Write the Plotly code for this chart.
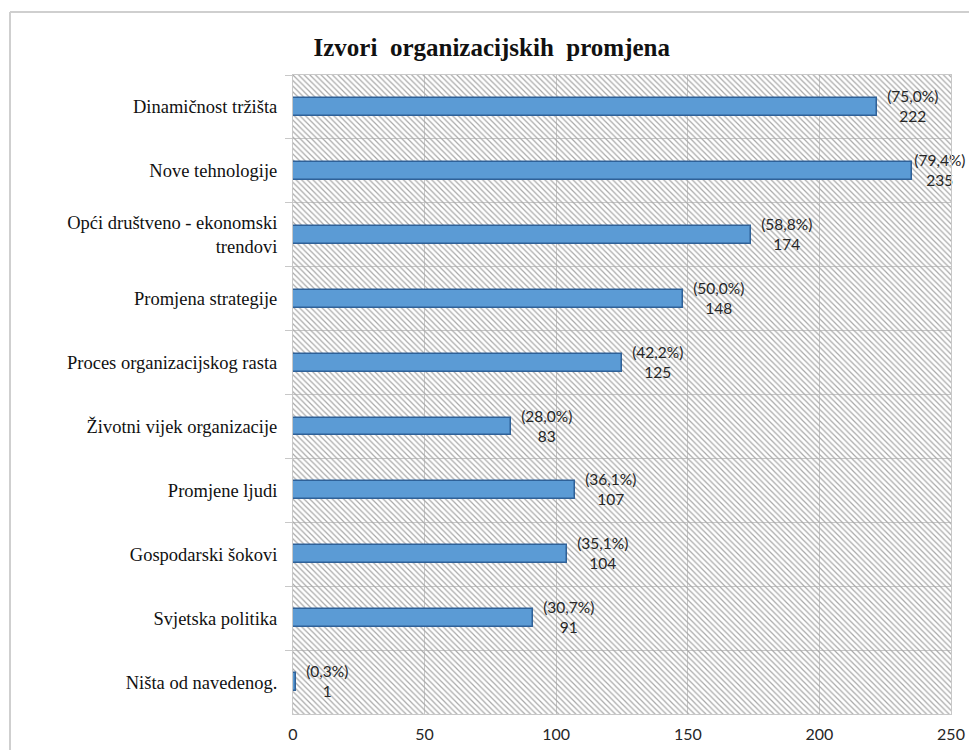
import plotly.graph_objects as go

categories = [
    "Dinamičnost tržišta",
    "Nove tehnologije",
    "Opći društveno - ekonomski<br>trendovi",
    "Promjena strategije",
    "Proces organizacijskog rasta",
    "Životni vijek organizacije",
    "Promjene ljudi",
    "Gospodarski šokovi",
    "Svjetska politika",
    "Ništa od navedenog.",
]
counts = [222, 235, 174, 148, 125, 83, 107, 104, 91, 1]
percents = ["75,0%", "79,4%", "58,8%", "50,0%", "42,2%", "28,0%", "36,1%", "35,1%", "30,7%", "0,3%"]
x_max = 250
x_ticks = [0, 50, 100, 150, 200, 250]

W, H = 970, 751
ML, MR, MT, MB = 293, 19, 75, 37
PW, PH = W - ML - MR, H - MT - MB


def pad_for(v):
    # labels near the right edge get less space (as in the original)
    return "" if v > 0.9 * x_max else "\u00a0\u00a0"


labels = [f"{pad_for(c)}({p})<br>{pad_for(c)}{c}" for p, c in zip(percents, counts)]

fig = go.Figure()

# hatched plot-area background
fig.add_trace(go.Bar(
    y=categories, x=[x_max] * len(categories), orientation="h", width=1,
    marker=dict(color="rgba(0,0,0,0)", line=dict(width=0),
                pattern=dict(shape="\\", fgcolor="#a8a8a8", bgcolor="rgba(0,0,0,0)",
                             size=4, solidity=0.3, fillmode="replace")),
    hoverinfo="skip", showlegend=False,
))

fig.add_trace(go.Bar(
    y=categories, x=counts, orientation="h", width=0.28,
    marker=dict(color="#5B9BD5", line=dict(color="#2F6198", width=1.5)),
    text=labels, textposition="outside", cliponaxis=False, constraintext="none",
    textfont=dict(family="Lato", size=15.5, color="#262626"),
    showlegend=False,
))

# outer chart frame (top and left edges visible in the original)
fx0 = (10 - ML) / PW
fx1 = (W - 1 - ML) / PW
fy1 = (H - MB - 12) / PH
fy0 = -(MB - 1) / PH

fig.update_layout(
    width=W, height=H,
    barmode="overlay",
    paper_bgcolor="white", plot_bgcolor="white",
    margin=dict(l=ML, r=MR, t=MT, b=MB, autoexpand=False),
    title=dict(text="<b>Izvori  organizacijskih  promjena</b>", x=0.507, xanchor="center",
               y=0.937, yanchor="middle",
               font=dict(family="Liberation Serif, Times New Roman, serif", size=25, color="#111111")),
    xaxis=dict(range=[0, x_max], tickvals=x_ticks, showgrid=True, gridcolor="#c8c8c8",
               gridwidth=1, zeroline=False, showline=True, linecolor="#c8c8c8", mirror=True,
               tickfont=dict(family="Lato", size=16, color="#262626"), ticks="",
               ticklabelstandoff=6, ticklabeloverflow="allow", automargin=False),
    yaxis=dict(autorange="reversed", tickson="boundaries", showgrid=True, gridcolor="#c8c8c8",
               gridwidth=1, ticks="outside", ticklen=7, tickcolor="#c8c8c8",
               showline=True, linecolor="#c8c8c8", mirror=True, ticklabelstandoff=11,
               automargin=False,
               tickfont=dict(family="Liberation Serif, Times New Roman, serif", size=18.5, color="#111111")),
    shapes=[
        dict(type="line", xref="paper", yref="paper", x0=fx0, x1=fx1, y0=fy1, y1=fy1,
             line=dict(color="#cfcfcf", width=2), layer="below"),
        dict(type="line", xref="paper", yref="paper", x0=fx0, x1=fx0, y0=fy0, y1=fy1,
             line=dict(color="#cfcfcf", width=2), layer="below"),
    ],
    bargap=0,
)

fig.write_html(
    "out.html",
    config={"displayModeBar": False},
    post_script="document.body.style.margin='0';document.body.style.overflow='hidden';",
)
